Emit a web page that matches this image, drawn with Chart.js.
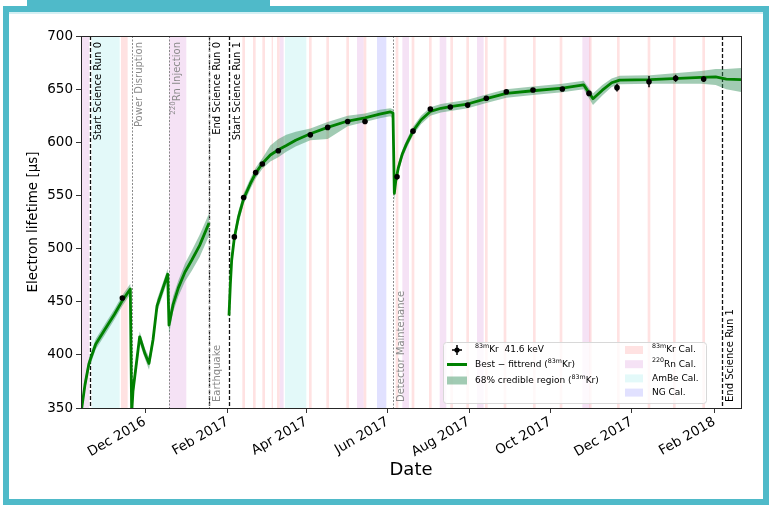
<!DOCTYPE html>
<html>
<head>
<meta charset="utf-8">
<script src="https://cdn.jsdelivr.net/npm/chart.js@4.4.1/dist/chart.umd.min.js"></script>
<style>
  html, body { margin: 0; padding: 0; background: #fff; }
  body { width: 769px; height: 505px; position: relative; overflow: hidden; }
  #tab { position: absolute; left: 27px; top: 0; width: 243px; height: 7px; background: #4fbac9; }
  #frame { position: absolute; left: 3px; top: 6px; right: 0; bottom: 0; border: 6px solid #4fbac9;
           box-sizing: border-box; background: #fff; box-shadow: inset 0 2px 0 #d4f0f4; }
  canvas { position: absolute; left: 0; top: 0; }
</style>
</head>
<body>
<div id="tab"></div>
<div id="frame"></div>
<canvas id="c" width="769" height="505"></canvas>
<script>
// Electron lifetime vs date, 83mKr measurements with best-fit trend

const xRange     = ['2016-10-14', '2018-02-21'];
const yRange     = [350, 700];
const tickDates  = ['2016-12-01', '2017-02-01', '2017-04-01', '2017-06-01', '2017-08-01', '2017-10-01', '2017-12-01', '2018-02-01'];
const tickLabels = ['Dec 2016', 'Feb 2017', 'Apr 2017', 'Jun 2017', 'Aug 2017', 'Oct 2017', 'Dec 2017', 'Feb 2018'];

// 83mKr 41.6 keV points
const krDates  = ['2016-11-14', '2017-02-06', '2017-02-13', '2017-02-22', '2017-02-27', '2017-03-11', '2017-04-04', '2017-04-17',
                  '2017-05-02', '2017-05-15', '2017-06-08', '2017-06-20', '2017-07-03', '2017-07-18', '2017-07-31', '2017-08-14',
                  '2017-08-29', '2017-09-18', '2017-10-10', '2017-10-30', '2017-11-20', '2017-12-14', '2018-01-03', '2018-01-24'];
const krValues = [453.5, 511, 548, 571.5, 579.5, 592, 607, 614, 619.5, 619.5, 567.5, 610.5, 631.3, 633.2, 635, 641.5,
                  647.5, 649.2, 650.1, 646, 651.4, 657, 660.2, 659.5];
const krErrors = [1.5, 1.5, 1.5, 1.5, 1.5, 1.5, 1.5, 1.5, 1.5, 1.5, 2, 1.5, 1.5, 1.5, 1.5, 1.5,
                  1.5, 1.5, 2, 2.5, 3.6, 5.3, 3.3, 2.8];

// best-fit trend and 68% credible region (null = no fit)
const fitDates = ['2016-10-14', '2016-10-17', '2016-10-20', '2016-10-25', '2016-11-01', '2016-11-08', '2016-11-14', '2016-11-20',
                  '2016-11-21', '2016-11-22', '2016-11-27', '2016-12-01', '2016-12-04', '2016-12-07', '2016-12-10', '2016-12-18',
                  '2016-12-19', '2016-12-22', '2016-12-26', '2016-12-31', '2017-01-05', '2017-01-11', '2017-01-18', '2017-01-25',
                  '2017-02-02', '2017-02-03', '2017-02-04', '2017-02-06', '2017-02-09', '2017-02-13', '2017-02-18', '2017-02-22',
                  '2017-02-27', '2017-03-05', '2017-03-11', '2017-03-17', '2017-03-24', '2017-04-04', '2017-04-17', '2017-05-02',
                  '2017-05-15', '2017-05-26', '2017-06-03', '2017-06-05', '2017-06-06', '2017-06-07', '2017-06-09', '2017-06-12',
                  '2017-06-15', '2017-06-20', '2017-06-26', '2017-07-03', '2017-07-11', '2017-07-18', '2017-07-31', '2017-08-14',
                  '2017-08-29', '2017-09-18', '2017-10-10', '2017-10-26', '2017-11-02', '2017-11-09', '2017-11-16', '2017-11-22',
                  '2017-12-15', '2018-01-22', '2018-02-02', '2018-02-10', '2018-02-22'];
const fitValues = [345, 372, 392, 410, 424, 438, 451, 462,
                   345, 366, 417, 401, 392, 414, 446, 476,
                   428, 447, 463, 478, 489, 503, 524, null,
                   437, 466, 489, 510, 529, 547, 561, 571,
                   580, 588, 593, 597, 602, 608, 614, 620,
                   623, 626.5, 628.5, 627.5, 552, 563, 576, 589,
                   598, 610.5, 621, 629, 632, 633.5, 636, 641,
                   646, 648.5, 651, 654, 641, 649, 656, 658.5,
                   659, 661, 661.5, 659.5, 659];
const fitLow  = [340, 366, 387, 405, 419, 433, 446, 457,
                 338, 359, 411, 396, 386, 408, 440, 470,
                 419, 440, 455, 469, 479, 492, 512, null,
                 430, 459, 482, 504, 523, 542, 556, 566,
                 575, 582, 586, 591, 596, 602, 603, 615,
                 619, 622.5, 624.5, 622, 544, 557, 571, 585,
                 594, 606.5, 617, 625, 628, 629.5, 632, 637,
                 642, 644.5, 647, 650, 635, 644, 652, 654.5,
                 655, 655, 654, 650, 647];
const fitHigh = [350, 378, 397, 415, 429, 443, 456, 467,
                 352, 372, 422, 406, 398, 420, 452, 481,
                 436, 455, 470, 486, 498, 513, 533, null,
                 446, 473, 496, 516, 535, 552, 566, 576,
                 585, 597, 603, 607, 610, 613, 619, 625,
                 627, 630.5, 632, 631, 560, 569, 581, 593,
                 602, 614.5, 625, 633, 636, 637.5, 640, 645,
                 650, 652.5, 655, 658, 646, 654, 660, 662.5,
                 663, 667, 669, 669, 670];

// calibration periods [start, end]
const krCal = [['2016-11-13', '2016-11-18'], ['2017-02-12', '2017-02-14'], ['2017-02-20', '2017-02-22'], ['2017-02-27', '2017-03-01'],
               ['2017-03-06', '2017-03-07'], ['2017-03-10', '2017-03-12'], ['2017-04-03', '2017-04-05'], ['2017-04-16', '2017-04-18'],
               ['2017-05-01', '2017-05-03'], ['2017-05-14', '2017-05-16'], ['2017-06-07', '2017-06-09'], ['2017-06-19', '2017-06-21'],
               ['2017-07-02', '2017-07-04'], ['2017-07-18', '2017-07-20'], ['2017-07-30', '2017-08-01'], ['2017-08-13', '2017-08-15'],
               ['2017-08-27', '2017-08-29'], ['2017-09-18', '2017-09-20'], ['2017-10-08', '2017-10-10'], ['2017-10-30', '2017-11-01'],
               ['2017-11-20', '2017-11-22'], ['2017-12-13', '2017-12-15'], ['2018-01-01', '2018-01-03'], ['2018-01-23', '2018-01-25']];
const rnCal = [['2016-10-12', '2016-10-20'], ['2016-12-19', '2017-01-01'], ['2017-03-12', '2017-03-15'], ['2017-05-09', '2017-05-14'],
               ['2017-06-12', '2017-06-17'], ['2017-07-10', '2017-07-15'], ['2017-08-07', '2017-08-12'], ['2017-10-25', '2017-10-31']];
const ambeCal = [['2016-10-22', '2016-11-12'], ['2017-03-16', '2017-04-01']];
const ngCal   = [['2017-05-24', '2017-05-31']];

// events
const eventDates  = ['2016-10-21', '2016-11-21', '2016-12-19', '2017-01-18', '2017-01-18', '2017-02-02', '2017-06-05', '2018-02-07'];
const eventLabels = ['Start Science Run 0', 'Power Disruption', '^{220}Rn Injection', 'End Science Run 0', 'Earthquake',
                     'Start Science Run 1', 'Detector Maintenance', 'End Science Run 1'];
const eventIsRun  = [true, false, false, true, false, true, false, true];
const eventAtTop  = [true, true, true, true, false, true, false, false];

const COL = {
  kr:     'rgba(255,182,182,0.4)',
  rn:     'rgba(221,160,221,0.3)',
  ambe:   'rgba(175,238,238,0.35)',
  ng:     'rgba(120,120,255,0.22)',
  fit:    '#008000',
  region: 'rgba(46,139,87,0.45)',
  note:   '#8a8a8a',
};
const FONT = '"DejaVu Sans", sans-serif';

const ORIGIN = Date.UTC(2016, 11, 1);
const day = s => (Date.parse(s + 'T00:00:00Z') - ORIGIN) / 864e5;

// '^{83m}Kr' -> superscript parts
function parts(str) {
  const out = [];
  const re = /\^\{([^}]*)\}/g;
  let last = 0, m;
  while ((m = re.exec(str))) {
    if (m.index > last) out.push({ t: str.slice(last, m.index) });
    out.push({ t: m[1], sup: true });
    last = re.lastIndex;
  }
  if (last < str.length) out.push({ t: str.slice(last) });
  return out;
}

function drawRich(ctx, str, x, y, size, align) {
  const ps = parts(str);
  const fnt = p => `${p.sup ? size * 0.7 : size}px ${FONT}`;
  let w = 0;
  ps.forEach(p => { ctx.font = fnt(p); w += ctx.measureText(p.t).width; });
  let cx = align === 'right' ? x - w : x;
  ctx.textAlign = 'left';
  ctx.textBaseline = 'middle';
  ps.forEach(p => {
    ctx.font = fnt(p);
    ctx.fillText(p.t, cx, p.sup ? y - size * 0.38 : y);
    cx += ctx.measureText(p.t).width;
  });
}

const backdrop = {
  id: 'backdrop',
  beforeDatasetsDraw(chart) {
    const { ctx, chartArea: a, scales: { x } } = chart;
    ctx.save();
    ctx.beginPath();
    ctx.rect(a.left, a.top, a.width, a.height);
    ctx.clip();
    const band = (list, color) => {
      ctx.fillStyle = color;
      list.forEach(([s, e]) => {
        const x0 = x.getPixelForValue(day(s));
        const x1 = x.getPixelForValue(day(e));
        ctx.fillRect(x0, a.top, x1 - x0, a.height);
      });
    };
    band(ambeCal, COL.ambe);
    band(ngCal, COL.ng);
    band(rnCal, COL.rn);
    band(krCal, COL.kr);

    eventDates.forEach((d, i) => {
      const px = Math.round(x.getPixelForValue(day(d))) + 0.5;
      ctx.beginPath();
      ctx.strokeStyle = eventIsRun[i] ? '#111' : COL.note;
      ctx.lineWidth = eventIsRun[i] ? 1.3 : 1;
      ctx.setLineDash(eventIsRun[i] ? [4, 2] : [2, 1.5]);
      ctx.moveTo(px, a.top);
      ctx.lineTo(px, a.bottom);
      ctx.stroke();
    });
    ctx.restore();
  },
  afterDatasetsDraw(chart) {
    const { ctx, chartArea: a, scales: { x, y } } = chart;

    // error bars
    ctx.save();
    ctx.strokeStyle = '#000';
    ctx.lineWidth = 1.5;
    krDates.forEach((d, i) => {
      const px = x.getPixelForValue(day(d));
      ctx.beginPath();
      ctx.moveTo(px, y.getPixelForValue(krValues[i] - krErrors[i]));
      ctx.lineTo(px, y.getPixelForValue(krValues[i] + krErrors[i]));
      ctx.stroke();
    });

    // event labels
    eventDates.forEach((d, i) => {
      const px = x.getPixelForValue(day(d)) + 8;
      ctx.save();
      ctx.fillStyle = eventIsRun[i] ? '#000' : COL.note;
      ctx.translate(px, eventAtTop[i] ? a.top + 6 : a.bottom - 6);
      ctx.rotate(-Math.PI / 2);
      drawRich(ctx, eventLabels[i], 0, 0, 10, eventAtTop[i] ? 'right' : 'left');
      ctx.restore();
    });

    // frame
    ctx.strokeStyle = '#262626';
    ctx.lineWidth = 1;
    ctx.strokeRect(Math.round(a.left) + 0.5, Math.round(a.top) + 0.5, Math.round(a.width), Math.round(a.height));
    ctx.restore();
  },
  afterDraw(chart) {
    const { ctx, chartArea: a } = chart;
    const L = a.right - 298, T = a.bottom - 66, W = 263, H = 61;
    ctx.save();
    ctx.fillStyle = 'rgba(255,255,255,0.8)';
    ctx.strokeStyle = '#d8d8d8';
    ctx.lineWidth = 1;
    ctx.beginPath();
    ctx.roundRect(L + 0.5, T + 0.5, W, H, 3);
    ctx.fill();
    ctx.stroke();

    const fs = 9;
    // left column
    const lx = L + 14, tx = L + 32;
    let ry = T + 8;
    ctx.strokeStyle = '#000';
    ctx.lineWidth = 1.5;
    ctx.beginPath();
    ctx.moveTo(lx, ry - 5); ctx.lineTo(lx, ry + 5);
    ctx.moveTo(lx - 5, ry); ctx.lineTo(lx + 5, ry);
    ctx.stroke();
    ctx.fillStyle = '#000';
    ctx.beginPath(); ctx.arc(lx, ry, 2.6, 0, Math.PI * 2); ctx.fill();
    drawRich(ctx, '^{83m}Kr  41.6 keV', tx, ry, fs, 'left');

    ry = T + 22.5;
    ctx.strokeStyle = COL.fit;
    ctx.lineWidth = 3;
    ctx.beginPath(); ctx.moveTo(lx - 10, ry); ctx.lineTo(lx + 10, ry); ctx.stroke();
    ctx.fillStyle = '#000';
    drawRich(ctx, 'Best − fittrend (^{83m}Kr)', tx, ry, fs, 'left');

    ry = T + 38.5;
    ctx.fillStyle = COL.region;
    ctx.fillRect(lx - 10, ry - 4, 20, 8);
    ctx.fillStyle = '#000';
    drawRich(ctx, '68% credible region (^{83m}Kr)', tx, ry, fs, 'left');

    // right column
    const sx = L + 182, rtx = L + 209;
    const rows = [[COL.kr, '^{83m}Kr Cal.'], [COL.rn, '^{220}Rn Cal.'], [COL.ambe, 'AmBe Cal.'], [COL.ng, 'NG Cal.']];
    rows.forEach(([c, t], i) => {
      const yy = T + 8 + i * 14.2;
      ctx.fillStyle = c;
      ctx.fillRect(sx, yy - 4, 18, 8);
      ctx.fillStyle = '#000';
      drawRich(ctx, t, rtx, yy, fs, 'left');
    });
    ctx.restore();
  }
};

Chart.defaults.font.family = FONT;
Chart.defaults.color = '#000';

new Chart(document.getElementById('c'), {
  type: 'line',
  data: {
    datasets: [
      {
        data: krDates.map((d, i) => ({ x: day(d), y: krValues[i] })),
        showLine: false,
        pointRadius: 2.8,
        pointBackgroundColor: '#000',
        pointBorderColor: '#000',
        pointBorderWidth: 0,
      },
      {
        data: fitDates.map((d, i) => ({ x: day(d), y: fitValues[i] })),
        borderColor: COL.fit,
        borderWidth: 2.8,
        borderJoinStyle: 'round',
        pointRadius: 0,
        fill: false,
        clip: 0,
      },
      {
        data: fitDates.map((d, i) => ({ x: day(d), y: fitLow[i] })),
        borderWidth: 0,
        pointRadius: 0,
        fill: false,
        clip: 0,
      },
      {
        data: fitDates.map((d, i) => ({ x: day(d), y: fitHigh[i] })),
        borderWidth: 0,
        pointRadius: 0,
        backgroundColor: COL.region,
        fill: '-1',
        clip: 0,
      },
    ],
  },
  options: {
    responsive: false,
    animation: false,
    events: [],
    layout: { padding: { left: 0, right: 28, top: 36, bottom: 0 } },
    plugins: { legend: { display: false }, tooltip: { enabled: false } },
    scales: {
      x: {
        type: 'linear',
        min: day(xRange[0]),
        max: day(xRange[1]),
        afterBuildTicks: s => { s.ticks = tickDates.map(d => ({ value: day(d) })); },
        afterFit: s => { s.height = 97; },
        ticks: {
          callback: v => tickLabels[tickDates.map(day).indexOf(v)],
          minRotation: 30,
          maxRotation: 30,
          autoSkip: false,
          padding: 1,
          font: { size: 13.5 },
        },
        grid: { drawOnChartArea: false, drawTicks: true, tickLength: 5, color: '#333' },
        border: { display: false },
        title: { display: true, text: 'Date', font: { size: 18 }, padding: { top: 0, bottom: 24 } },
      },
      y: {
        min: yRange[0],
        max: yRange[1],
        afterFit: s => { s.width = 81; },
        ticks: { stepSize: 50, padding: 3, font: { size: 13.5 } },
        grid: { drawOnChartArea: false, drawTicks: true, tickLength: 5, color: '#333' },
        border: { display: false },
        title: { display: true, text: 'Electron lifetime [μs]', font: { size: 13.5 }, padding: { top: 25, bottom: 0 } },
      },
    },
  },
  plugins: [backdrop],
});
</script>
</body>
</html>
